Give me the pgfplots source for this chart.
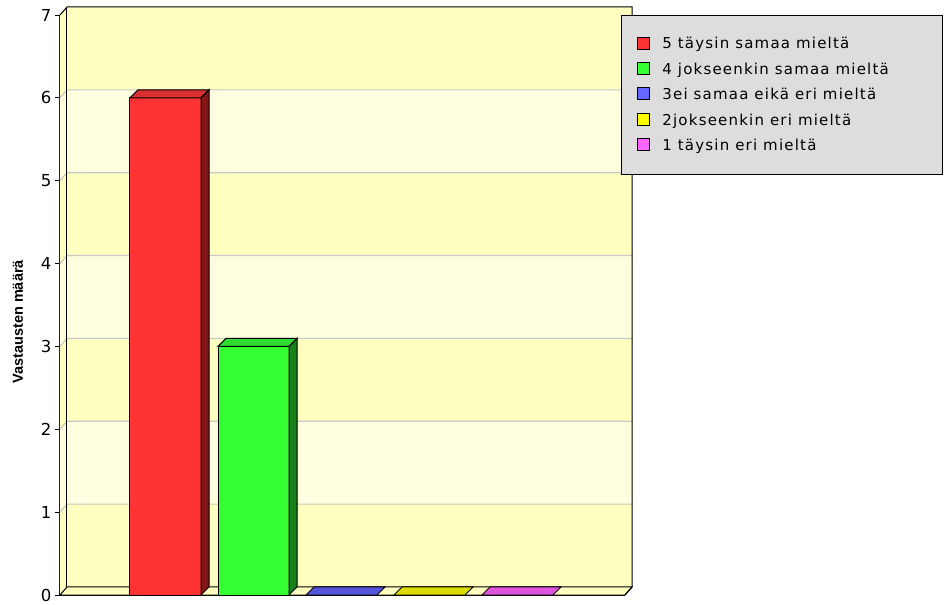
\documentclass[border=0pt]{standalone}
\usepackage{fontspec}
\setmainfont{DejaVu Sans}
\newfontfamily\legfont[LetterSpace=8]{DejaVu Sans}
\newfontfamily\labfont{Liberation Sans}
\usepackage{pgfplots}
\pgfplotsset{compat=1.18}

\definecolor{bandA}{RGB}{255,255,192}
\definecolor{bandB}{RGB}{255,255,224}
\definecolor{gridgray}{RGB}{200,200,200}
\definecolor{leggray}{RGB}{221,221,221}
\definecolor{redF}{RGB}{255,51,51}
\definecolor{redT}{RGB}{220,48,48}
\definecolor{redS}{RGB}{128,24,24}
\definecolor{greenF}{RGB}{51,255,51}
\definecolor{greenT}{RGB}{48,220,48}
\definecolor{greenS}{RGB}{24,128,24}
\definecolor{blueT}{RGB}{85,85,220}
\definecolor{yelT}{RGB}{220,220,0}
\definecolor{magT}{RGB}{220,85,220}
\definecolor{blueL}{RGB}{102,102,255}
\definecolor{yelL}{RGB}{255,255,0}
\definecolor{magL}{RGB}{255,102,255}

% depth of the 3d effect: 8 px across, 0.0966 units up
\def\dy{0.0966}

\begin{document}
\begin{tikzpicture}
\begin{axis}[
    x=1pt, y=82.857pt,
    xmin=0, xmax=565, ymin=0, ymax=7,
    clip=false,
    axis lines=left,
    axis line style={-, line width=1pt},
    xtick=\empty,
    ytick={0,...,7},
    tick align=outside,
    major tick length=5pt,
    tick style={black, line width=1pt},
    yticklabel style={font=\fontsize{16.5}{16.5}\selectfont, /pgf/number format/assume math mode=true},
    ylabel={Vastausten määrä},
    ylabel style={font=\labfont\bfseries\fontsize{14.5}{14.5}\selectfont, at={(axis description cs:-0.0743,0.471)}, anchor=center},
    legend style={at={(axis description cs:0.99292,1)}, anchor=north west,
        fill=leggray, draw=black, line width=1pt,
        font=\legfont\fontsize{15}{15}\selectfont,
        inner xsep=15pt, inner ysep=21pt, row sep=10pt,
        nodes={inner sep=0pt, text height=11pt, text depth=3pt},
        cells={anchor=west}},
    legend image code/.code={
        \draw[#1, draw=black, line width=0.8pt] (0pt,-4pt) rectangle (12pt,8pt);
        \path (25pt,0pt);
    },
]
% back wall and side wall bands
\pgfplotsinvokeforeach{0,2,4,6}{
    \fill[bandA] (7,{#1+\dy}) rectangle (572,{#1+1+\dy});
    \fill[bandA] (0,#1) -- (7,{#1+\dy}) -- (7,{#1+1+\dy}) -- (0,{#1+1}) -- cycle;
}
\pgfplotsinvokeforeach{1,3,5}{
    \fill[bandB] (7,{#1+\dy}) rectangle (572,{#1+1+\dy});
    \fill[bandB] (0,#1) -- (7,{#1+\dy}) -- (7,{#1+1+\dy}) -- (0,{#1+1}) -- cycle;
}
\pgfplotsinvokeforeach{1,...,6}{
    \draw[gridgray, line width=1.2pt] (0,#1) -- (7,{#1+\dy}) -- (572,{#1+\dy});
}
% floor
\filldraw[fill=bandA, draw=black, line width=1pt] (0,0) -- (565,0) -- (572,\dy) -- (7,\dy) -- cycle;
\draw[black, line width=1pt] (0,7) -- (7,{7+\dy}) -- (572,{7+\dy}) -- (572,\dy) -- (565,0);
\draw[black, line width=1pt] (7,{7+\dy}) -- (7,\dy);

% 5 täysin samaa mieltä = 6
\addplot[fill=redF, draw=black, line width=1pt, forget plot] coordinates {(70,0) (141,0) (141,6) (70,6)} -- cycle;
\addplot[fill=redT, draw=black, line width=1pt, forget plot] coordinates {(70,6) (141,6) (149,6.0966) (78,6.0966)} -- cycle;
\addplot[fill=redS, draw=black, line width=1pt, forget plot] coordinates {(141,0) (149,0.0966) (149,6.0966) (141,6)} -- cycle;
% 4 jokseenkin samaa mieltä = 3
\addplot[fill=greenF, draw=black, line width=1pt, forget plot] coordinates {(158,0) (229,0) (229,3) (158,3)} -- cycle;
\addplot[fill=greenT, draw=black, line width=1pt, forget plot] coordinates {(158,3) (229,3) (237,3.0966) (166,3.0966)} -- cycle;
\addplot[fill=greenS, draw=black, line width=1pt, forget plot] coordinates {(229,0) (237,0.0966) (237,3.0966) (229,3)} -- cycle;
% 3, 2 and 1 = 0
\addplot[fill=blueT, draw=black, line width=1pt, forget plot] coordinates {(246,0) (317,0) (325,0.0966) (254,0.0966)} -- cycle;
\addplot[fill=yelT, draw=black, line width=1pt, forget plot] coordinates {(334,0) (405,0) (413,0.0966) (342,0.0966)} -- cycle;
\addplot[fill=magT, draw=black, line width=1pt, forget plot] coordinates {(422,0) (493,0) (501,0.0966) (430,0.0966)} -- cycle;

\addlegendimage{fill=redF}
\addlegendentry{\makebox[265pt][l]{5 täysin samaa mieltä}}
\addlegendimage{fill=greenF}
\addlegendentry{4 jokseenkin samaa mieltä}
\addlegendimage{fill=blueL}
\addlegendentry{3ei samaa eikä eri mieltä}
\addlegendimage{fill=yelL}
\addlegendentry{2jokseenkin eri mieltä}
\addlegendimage{fill=magL}
\addlegendentry{1 täysin eri mieltä}

\path (-60,-0.1086) rectangle (886,7.1811);
\end{axis}
\end{tikzpicture}
\end{document}
